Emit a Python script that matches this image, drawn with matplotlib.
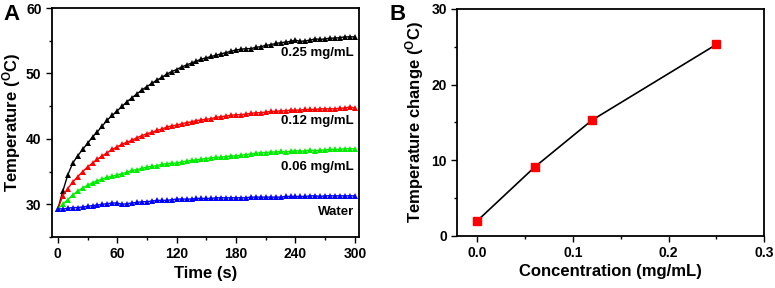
import numpy as np
import matplotlib
matplotlib.use('Agg')
import matplotlib.pyplot as plt
from matplotlib.ticker import MultipleLocator

plt.rcParams['font.family'] = ['Liberation Sans', 'DejaVu Sans']
plt.rcParams['font.weight'] = 'bold'
plt.rcParams['mathtext.fontset'] = 'custom'
plt.rcParams['mathtext.bf'] = 'Liberation Sans:bold'
plt.rcParams['mathtext.rm'] = 'Liberation Sans:bold'

# panel A data (temperature every 5 s)
time_s = np.arange(0, 301, 5)
t_025 = [29.3, 32.0, 34.5, 36.3, 37.4, 38.4, 39.3, 40.3, 41.1, 42.0, 42.9, 43.6, 44.3,
         45.0, 45.7, 46.3, 46.9, 47.5, 48.0, 48.5, 49.0, 49.4, 49.9, 50.3, 50.6, 51.0,
         51.3, 51.6, 51.9, 52.2, 52.4, 52.6, 52.8, 53.0, 53.2, 53.4, 53.6, 53.7, 53.8,
         53.8, 54.0, 54.1, 54.3, 54.4, 54.6, 54.7, 54.8, 54.9, 55.1, 54.9, 55.0, 55.1,
         55.3, 55.2, 55.3, 55.4, 55.4, 55.5, 55.6, 55.6, 55.6]
t_012 = [29.3, 31.3, 32.4, 33.4, 34.2, 35.0, 35.7, 36.3, 36.9, 37.4, 37.9, 38.4, 38.8,
         39.2, 39.5, 39.8, 40.2, 40.5, 40.8, 41.0, 41.3, 41.5, 41.8, 42.0, 42.1, 42.3,
         42.5, 42.6, 42.8, 42.9, 43.0, 43.1, 43.3, 43.4, 43.5, 43.6, 43.7, 43.7, 43.8,
         43.9, 44.0, 44.0, 44.1, 44.2, 44.2, 44.3, 44.3, 44.4, 44.4, 44.4, 44.5, 44.5,
         44.5, 44.6, 44.6, 44.6, 44.6, 44.7, 44.7, 44.9, 44.7]
t_006 = [29.3, 30.0, 30.7, 31.4, 32.0, 32.5, 32.9, 33.3, 33.6, 33.9, 34.1, 34.3, 34.5,
         34.7, 34.9, 35.2, 35.3, 35.5, 35.7, 35.8, 35.9, 36.1, 36.2, 36.3, 36.3, 36.5,
         36.6, 36.7, 36.8, 36.9, 37.0, 37.1, 37.2, 37.2, 37.3, 37.4, 37.4, 37.5, 37.6,
         37.7, 37.8, 37.9, 37.9, 38.0, 38.0, 38.1, 38.0, 38.1, 38.2, 38.1, 38.2, 38.3,
         38.2, 38.3, 38.3, 38.4, 38.4, 38.4, 38.5, 38.5, 38.5]
t_water = [29.3, 29.3, 29.4, 29.5, 29.5, 29.6, 29.7, 29.8, 29.9, 30.0, 30.1, 30.2, 30.2,
           30.0, 30.1, 30.2, 30.3, 30.4, 30.4, 30.5, 30.6, 30.6, 30.6, 30.7, 30.8, 30.8,
           30.8, 30.8, 30.9, 30.9, 30.9, 30.9, 31.0, 31.0, 31.0, 31.0, 31.0, 31.0, 31.0,
           31.1, 31.1, 31.1, 31.1, 31.1, 31.1, 31.1, 31.2, 31.2, 31.2, 31.2, 31.2, 31.3,
           31.3, 31.2, 31.3, 31.3, 31.3, 31.3, 31.3, 31.3, 31.3]

# panel B data
conc = [0.0, 0.06, 0.12, 0.25]
dT = [2.0, 9.1, 15.3, 25.3]

fig = plt.figure(figsize=(7.75, 2.88), dpi=100)
axA = fig.add_axes([0.067, 0.177, 0.396, 0.795])
axB = fig.add_axes([0.590, 0.181, 0.396, 0.788])

series = [(t_025, 'black'), (t_012, '#ff0000'), (t_006, '#00ee00'), (t_water, '#0000ff')]
for vals, col in series:
    axA.plot(time_s, vals, color=col, lw=1, marker='^', ms=4.5, mew=0)

lab_kw = dict(ha='right', va='center', fontsize=9.5, fontweight='bold')
axA.text(299, 53.1, '0.25 mg/mL', **lab_kw)
axA.text(299, 42.8, '0.12 mg/mL', **lab_kw)
axA.text(299, 35.7, '0.06 mg/mL', **lab_kw)
axA.text(299, 28.9, 'Water', **lab_kw)

axA.set_xlim(-6, 304)
axA.set_ylim(25, 60)
axA.set_xticks([0, 60, 120, 180, 240, 300])
axA.xaxis.set_minor_locator(MultipleLocator(30))
axA.set_yticks([30, 40, 50, 60])
axA.yaxis.set_minor_locator(MultipleLocator(5))
axA.set_xlabel('Time (s)', fontsize=12, fontweight='bold', labelpad=3)
axA.set_ylabel(r'Temperature ($\mathbf{^{O}}$C)', fontsize=12, fontweight='bold', labelpad=2)

axB.plot(conc, dT, color='black', lw=1.2, marker='s', ms=5.5, mfc='#ff0000', mec='#ff0000')
axB.set_xlim(-0.021, 0.3)
axB.set_ylim(0, 30)
axB.set_xticks([0.0, 0.1, 0.2, 0.3])
axB.set_xticklabels(['0.0', '0.1', '0.2', '0.3'])
axB.xaxis.set_minor_locator(MultipleLocator(0.05))
axB.set_yticks([0, 10, 20, 30])
axB.yaxis.set_minor_locator(MultipleLocator(5))
axB.set_xlabel('Concentration (mg/mL)', fontsize=12, fontweight='bold', labelpad=3)
axB.set_ylabel(r'Temperature change ($\mathbf{^{O}}$C)', fontsize=12, fontweight='bold', labelpad=4)

for ax in (axA, axB):
    for s in ax.spines.values():
        s.set_linewidth(1.3)
    ax.tick_params(which='major', direction='out', length=4, width=1, labelsize=10)
    ax.tick_params(which='minor', direction='out', length=2.5, width=1)
    for lab in ax.get_xticklabels() + ax.get_yticklabels():
        lab.set_fontweight('bold')

fig.text(0.005, 0.985, 'A', fontsize=16, fontweight='bold', va='top')
fig.text(0.502, 0.985, 'B', fontsize=16, fontweight='bold', va='top')

fig.savefig('out.png', dpi=100)
